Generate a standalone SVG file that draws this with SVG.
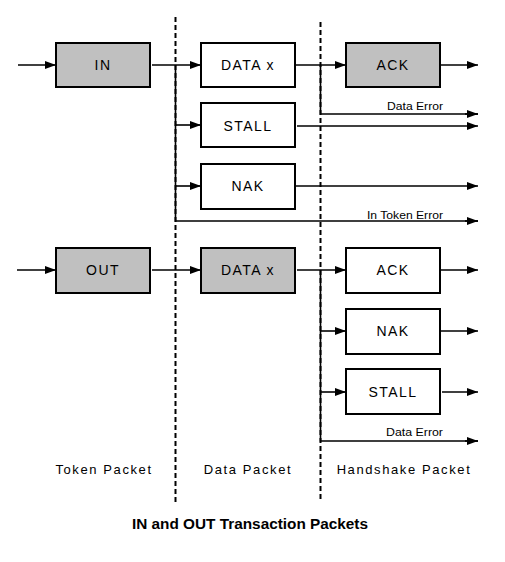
<svg xmlns="http://www.w3.org/2000/svg" width="505" height="562" viewBox="0 0 505 562">
<defs>
<marker id="ah" markerUnits="userSpaceOnUse" markerWidth="12" markerHeight="10" refX="11" refY="4.5" orient="auto">
<path d="M0,0.5 L11,4.5 L0,8.5 z" fill="#000"/>
</marker>
<style>
.box{stroke:#000;stroke-width:2}
.g{fill:#c0c0c0}
.w{fill:#fff}
.lbl{font-family:"Liberation Sans",Arial,sans-serif;font-size:14px;letter-spacing:1.4px;text-anchor:middle;fill:#000}
.col{font-family:"Liberation Sans",Arial,sans-serif;font-size:13px;letter-spacing:1.6px;text-anchor:middle;fill:#000}
.err{font-family:"Liberation Sans",Arial,sans-serif;font-size:11px;fill:#000}
.ttl{font-family:"Liberation Sans",Arial,sans-serif;font-size:14px;font-weight:bold;fill:#000}
.c{stroke:#000;stroke-width:1.6;fill:none}
.a{marker-end:url(#ah)}
.dash{stroke:#000;stroke-width:2;stroke-dasharray:5,3;fill:none}
</style>
</defs>
<rect width="505" height="562" fill="#fff"/>
<g id="dividers">
<line class="dash" x1="175.5" y1="17" x2="175.5" y2="502"/>
<line class="dash" x1="320.5" y1="22" x2="320.5" y2="502"/>
</g>
<g id="connectors">
<line class="c a" x1="18" y1="65" x2="56" y2="65"/>
<line class="c a" x1="152" y1="65" x2="201" y2="65"/>
<polyline class="c" points="175.5,65 175.5,221 478,221"/>
<line class="c a" x1="465" y1="221" x2="478" y2="221"/>
<line class="c a" x1="175.5" y1="125" x2="201" y2="125"/>
<line class="c a" x1="175.5" y1="186" x2="201" y2="186"/>
<line class="c a" x1="295" y1="65" x2="346" y2="65"/>
<line class="c a" x1="440" y1="65" x2="478" y2="65"/>
<polyline class="c" points="320.5,65 320.5,114 478,114"/>
<line class="c a" x1="465" y1="114" x2="478" y2="114"/>
<line class="c a" x1="297" y1="126" x2="478" y2="126"/>
<line class="c a" x1="295" y1="186" x2="478" y2="186"/>
<line class="c a" x1="17" y1="270" x2="56" y2="270"/>
<line class="c a" x1="152" y1="270" x2="201" y2="270"/>
<line class="c a" x1="297" y1="270" x2="346" y2="270"/>
<polyline class="c" points="320.5,270 320.5,441 478,441"/>
<line class="c a" x1="465" y1="441" x2="478" y2="441"/>
<line class="c a" x1="320.5" y1="331" x2="346" y2="331"/>
<line class="c a" x1="320.5" y1="392" x2="346" y2="392"/>
<line class="c a" x1="440" y1="270" x2="478" y2="270"/>
<line class="c a" x1="440" y1="331" x2="478" y2="331"/>
<line class="c a" x1="442" y1="392" x2="478" y2="392"/>
</g>
<g id="in"><rect class="box g" x="56" y="43" width="94" height="44"/><text class="lbl" x="103" y="70">IN</text></g>
<g id="datax-in"><rect class="box w" x="201" y="43" width="94" height="44"/><text class="lbl" x="248" y="70">DATA x</text></g>
<g id="stall-in"><rect class="box w" x="201" y="103" width="94" height="44"/><text class="lbl" x="248" y="131">STALL</text></g>
<g id="nak-in"><rect class="box w" x="201" y="164" width="94" height="45"/><text class="lbl" x="248" y="191">NAK</text></g>
<g id="ack-in"><rect class="box g" x="346" y="43" width="94" height="44"/><text class="lbl" x="393" y="70">ACK</text></g>
<g id="out"><rect class="box g" x="56" y="248" width="94" height="45"/><text class="lbl" x="103" y="275">OUT</text></g>
<g id="datax-out"><rect class="box g" x="201" y="248" width="94" height="45"/><text class="lbl" x="248" y="275">DATA x</text></g>
<g id="ack-out"><rect class="box w" x="346" y="248" width="94" height="45"/><text class="lbl" x="393" y="275">ACK</text></g>
<g id="nak-out"><rect class="box w" x="346" y="309" width="94" height="45"/><text class="lbl" x="393" y="336">NAK</text></g>
<g id="stall-out"><rect class="box w" x="346" y="369" width="94" height="45"/><text class="lbl" x="393" y="397">STALL</text></g>
<g id="labels">
<text class="err" x="387" y="110" textLength="56" lengthAdjust="spacingAndGlyphs">Data Error</text>
<text class="err" x="367" y="219" textLength="76" lengthAdjust="spacingAndGlyphs">In Token Error</text>
<text class="err" x="386" y="436" textLength="57" lengthAdjust="spacingAndGlyphs">Data Error</text>
<text class="col" x="104" y="474">Token Packet</text>
<text class="col" x="248" y="474">Data Packet</text>
<text class="col" x="404" y="474">Handshake Packet</text>
<text class="ttl" x="132" y="529" textLength="236" lengthAdjust="spacingAndGlyphs">IN and OUT Transaction Packets</text>
</g>
</svg>
